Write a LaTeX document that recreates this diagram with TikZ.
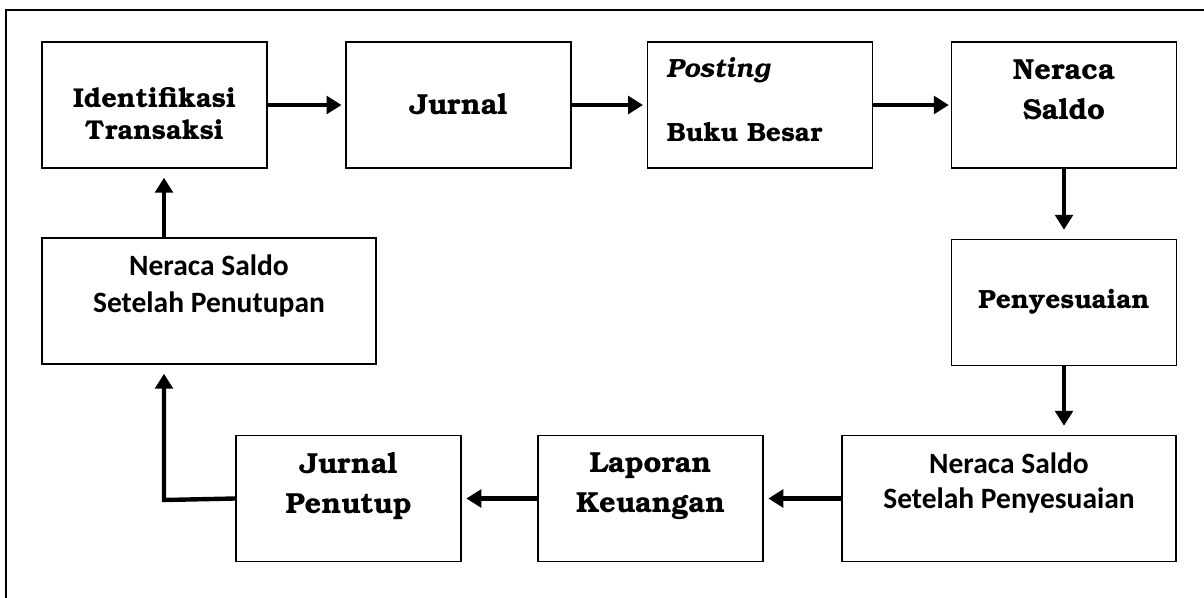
\documentclass[tikz,border=0pt]{standalone}
\usepackage{fontspec}
\usetikzlibrary{arrows.meta,positioning}
\newfontfamily\carlito{Carlito}
\newcommand\bkm{\fontencoding{T1}\fontfamily{pbk}\fontseries{b}\fontshape{n}\selectfont}
\newcommand\bkmit{\fontencoding{T1}\fontfamily{pbk}\fontseries{b}\fontshape{it}\selectfont}

\tikzset{
  box/.style={draw, line width=1.1pt, minimum width=4.5cm, minimum height=2.52cm, inner sep=0pt},
  widebox/.style={box, minimum width=6.68cm},
  serif/.style={font=\fontsize{15}{22}\bkm, align=center, inner sep=0pt},
  bigserif/.style={serif, font=\fontsize{16.5}{22.5}\bkm},
  sans/.style={font=\fontsize{16.8}{20}\carlito\bfseries, align=center, inner sep=0pt},
  flow/.style={line width=2.5pt, -{Triangle[length=8.5pt,width=10pt]}},
}

\begin{document}
\begin{tikzpicture}[x=0.02cm, y=-0.02cm]
\useasboundingbox (0,0) rectangle (1204,598);
% frame
\draw[line width=1.1pt] (6,598) -- (6,10) -- (1204,10);

% top row
\node[box] (ident) at (154.5,105) {};
\node[box, bigserif] (jurnal) at (458.5,105) {Jurnal};
\node[box] (posting) at (760,105) {};
\node[box] (neraca) at (1064,105) {};
% right column
\node[box, serif] (penyes) at (1064,302.5) {Penyesuaian};
% bottom row
\node[widebox] (nsspeny) at (1009,498.5) {};
\node[box] (laporan) at (650.5,498.5) {};
\node[box] (jpenutup) at (348.5,498.5) {};
% left column
\node[widebox] (nsspenut) at (209,301) {};

% texts
\node[serif, font=\fontsize{15.5}{18}\bkm, anchor=north, below=0.92cm of ident.north] (ident-t) {Identifikasi\\Transaksi};
\node[serif, anchor=base west] (posting-t) at ([shift={(0.4cm,-0.72cm)}]posting.north west) {\bkmit Posting};
\node[serif, anchor=base west] (buku-t) at ([shift={(0.4cm,-2.0cm)}]posting.north west) {Buku Besar};
\node[bigserif, below=0.38cm of neraca.north] (neraca-t) {Neraca\\Saldo};
\node[sans, below=0.36cm of nsspeny.north] (nsspeny-t) {Neraca Saldo\\Setelah Penyesuaian};
\node[bigserif, below=0.36cm of laporan.north] (laporan-t) {Laporan\\Keuangan};
\node[bigserif, below=0.36cm of jpenutup.north] (jpenutup-t) {Jurnal\\Penutup};
\node[sans, font=\fontsize{16.8}{21}\carlito\bfseries, below=0.34cm of nsspenut.north] (nsspenut-t) {Neraca Saldo\\Setelah Penutupan};

% arrows
\coordinate (bend) at (164,500);
\draw[flow, shorten >=2pt] (ident) -- (jurnal);
\draw[flow, shorten >=2pt] (jurnal) -- (posting);
\draw[flow, shorten >=1pt] (posting) -- (neraca);
\draw[flow, shorten >=5pt] (neraca) -- (penyes);
\draw[flow, shorten >=5pt] (penyes) -- (nsspeny.north -| penyes);
\draw[flow, shorten >=2.5pt] (nsspeny) -- (laporan);
\draw[flow, shorten >=2.5pt] (laporan) -- (jpenutup);
\draw[flow, shorten >=5pt] (jpenutup.west) -- (bend) -- (bend |- nsspenut.south);
\draw[flow, shorten >=5pt] (bend |- nsspenut.north) -- (bend |- ident.south);
\end{tikzpicture}
\end{document}
